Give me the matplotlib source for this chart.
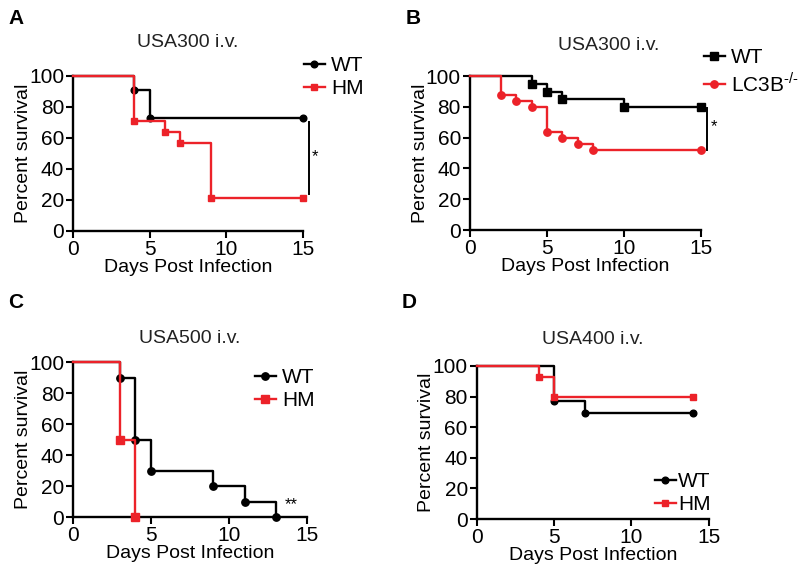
import matplotlib
matplotlib.use('Agg')
import matplotlib.pyplot as plt

plt.rcParams['font.family'] = ['Liberation Sans', 'DejaVu Sans']
plt.rcParams['mathtext.fontset'] = 'custom'
plt.rcParams['mathtext.rm'] = 'Liberation Sans'

RED = '#ec2229'
BLACK = '#000000'

# Panel A - USA300 i.v. (WT vs HM)
a_wt_days = [0, 4, 5, 15]
a_wt_surv = [100, 91, 73, 73]
a_wt_marks = [4, 5, 15]
a_hm_days = [0, 4, 6, 7, 9, 15]
a_hm_surv = [100, 71, 64, 57, 21, 21]
a_hm_marks = [4, 6, 7, 9, 15]

# Panel B - USA300 i.v. (WT vs LC3B-/-)
b_wt_days = [0, 4, 5, 6, 10, 15]
b_wt_surv = [100, 95, 90, 85, 80, 80]
b_wt_marks = [4, 5, 6, 10, 15]
b_ko_days = [0, 2, 3, 4, 5, 6, 7, 8, 15]
b_ko_surv = [100, 88, 84, 80, 64, 60, 56, 52, 52]
b_ko_marks = [2, 3, 4, 5, 6, 7, 8, 15]

# Panel C - USA500 i.v.
c_wt_days = [0, 3, 4, 5, 9, 11, 13]
c_wt_surv = [100, 90, 50, 30, 20, 10, 0]
c_wt_marks = [3, 4, 5, 9, 11, 13]
c_hm_days = [0, 3, 4]
c_hm_surv = [100, 50, 0]
c_hm_marks = [3, 4]

# Panel D - USA400 i.v.
d_wt_days = [0, 5, 7, 14]
d_wt_surv = [100, 77, 69, 69]
d_wt_marks = [5, 7, 14]
d_hm_days = [0, 4, 5, 14]
d_hm_surv = [100, 93, 80, 80]
d_hm_marks = [4, 5, 14]


def km(ax, days, surv, marks, color, marker, label, z, ms=4.8):
    ax.step(days, surv, where='post', color=color, lw=1.7, zorder=z, clip_on=False)
    my = [surv[days.index(m)] for m in marks]
    ax.plot(marks, my, ls='none', marker=marker, color=color, ms=ms, zorder=z + 1, clip_on=False)
    # legend proxy
    ax.plot([], [], color=color, marker=marker, ms=ms, lw=1.7, label=label)


def style(ax, title, tx=0.5, pad=22):
    ax.set_xlim(0, 15)
    ax.set_ylim(0, 100)
    ax.set_xticks([0, 5, 10, 15])
    ax.set_yticks([0, 20, 40, 60, 80, 100])
    for s in ['top', 'right']:
        ax.spines[s].set_visible(False)
    for s in ['left', 'bottom']:
        ax.spines[s].set_linewidth(1.7)
    ax.tick_params(direction='out', width=1.5, length=5, labelsize=15, pad=1.5)
    ax.set_xlabel('Days Post Infection', fontsize=14, labelpad=0)
    ax.set_ylabel('Percent survival', fontsize=14, labelpad=-2)
    ax.set_title(title, fontsize=14, color='#222222', pad=pad, x=tx)


def leg(ax, x, y, tpad=0.3):
    ax.legend(loc='upper left', bbox_to_anchor=(x / 800, 1 - y / 574), bbox_transform=fig.transFigure,
              frameon=False, fontsize=15, handlelength=1.0, handletextpad=tpad, labelspacing=0.2,
              borderaxespad=0, borderpad=0)


fig = plt.figure(figsize=(8, 5.74), dpi=100)

axA = fig.add_axes([0.0913, 0.5976, 0.2875, 0.270])
axB = fig.add_axes([0.5875, 0.5993, 0.289, 0.268])
axC = fig.add_axes([0.0913, 0.0993, 0.2925, 0.270])
axD = fig.add_axes([0.596, 0.0958, 0.29, 0.2666])

# A
km(axA, a_wt_days, a_wt_surv, a_wt_marks, BLACK, 'o', 'WT', 3)
km(axA, a_hm_days, a_hm_surv, a_hm_marks, RED, 's', 'HM', 5)
style(axA, 'USA300 i.v.', pad=21)
axA.plot([15.4, 15.4], [70, 24], color=BLACK, lw=1.4, clip_on=False)
axA.text(15.8, 48, '*', fontsize=12, ha='center', va='center')
leg(axA, 304, 56)

# B
km(axB, b_wt_days, b_wt_surv, b_wt_marks, BLACK, 's', 'WT', 3, ms=5.3)
km(axB, b_ko_days, b_ko_surv, b_ko_marks, RED, 'o', 'LC3B$^{\\text{-/-}}$', 5, ms=5.3)
style(axB, 'USA300 i.v.', tx=0.6, pad=19)
axB.plot([15.4, 15.4], [79, 52], color=BLACK, lw=1.4, clip_on=False)
axB.text(15.8, 67, '*', fontsize=12, ha='center', va='center')
leg(axB, 704, 48)

# C
km(axC, c_wt_days, c_wt_surv, c_wt_marks, BLACK, 'o', 'WT', 3, ms=5.3)
km(axC, c_hm_days, c_hm_surv, c_hm_marks, RED, 's', 'HM', 5, ms=5.3)
style(axC, 'USA500 i.v.', pad=14)
axC.text(14.0, 8, '**', fontsize=12, ha='center', va='center')
leg(axC, 255, 368)

# D
km(axD, d_wt_days, d_wt_surv, d_wt_marks, BLACK, 'o', 'WT', 3)
km(axD, d_hm_days, d_hm_surv, d_hm_marks, RED, 's', 'HM', 5)
style(axD, 'USA400 i.v.', pad=16)
leg(axD, 655, 472, tpad=0.1)

# panel letters
for lbl, x, y in [('A', 8, 18), ('B', 406, 18), ('C', 8, 303), ('D', 402, 303)]:
    fig.text(x / 800, 1 - y / 574, lbl, fontsize=15, fontweight='bold', va='center', ha='left')

fig.savefig('out.png', dpi=100)
